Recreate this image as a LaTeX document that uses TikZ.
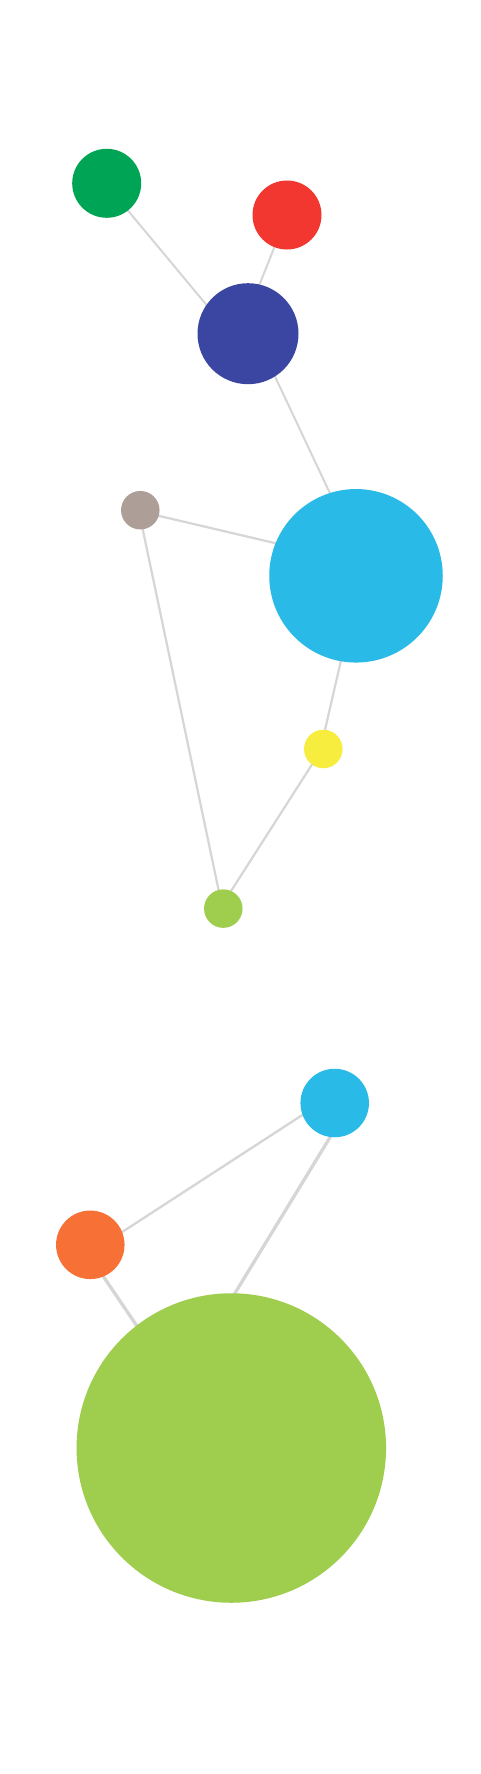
\documentclass[tikz,border=0pt]{standalone}
\usetikzlibrary{backgrounds}
\definecolor{cgreen}{HTML}{00A455}
\definecolor{cred}{HTML}{F23730}
\definecolor{cindigo}{HTML}{3B46A3}
\definecolor{cgrey}{HTML}{AD9F98}
\definecolor{ccyan}{HTML}{2ABAE7}
\definecolor{cyellow}{HTML}{F6ED3E}
\definecolor{clime}{HTML}{9FCD4E}
\definecolor{corange}{HTML}{F77035}
\definecolor{cedge}{HTML}{D6D6D6}
\tikzset{
  dot/.style={circle, inner sep=0pt, outer sep=0pt, draw=none, minimum size=#1},
  link/.style={draw=cedge, line width=#1},
  link/.default=2pt
}
\begin{document}
\begin{tikzpicture}[x=1pt,y=-1pt]
\useasboundingbox (0,0) rectangle (480,1774);
\node[dot=69pt, fill=cgreen] (g) at (106.7,183.3) {};
\node[dot=69pt, fill=cred] (r) at (287,215) {};
\node[dot=101pt, fill=cindigo] (b) at (248,333.7) {};
\node[dot=38.5pt, fill=cgrey] (gr) at (140.3,510.2) {};
\node[dot=173.5pt, fill=ccyan] (c) at (356,575.8) {};
\node[dot=38.5pt, fill=cyellow] (y) at (323.3,749) {};
\node[dot=38.5pt, fill=clime] (l) at (223.3,908.6) {};
\node[dot=68.5pt, fill=ccyan] (c2) at (334.7,1103) {};
\node[dot=68.5pt, fill=corange] (o) at (90.3,1244.8) {};
\node[dot=309.5pt, fill=clime] (bg) at (231.3,1448) {};
% hidden end points of the links, under the circles
\coordinate (g-b1) at (106.7,185.0);  \coordinate (g-b2) at (230,333.2);
\coordinate (r-b1) at (287.2,215);    \coordinate (r-b2) at (239.8,334);
\coordinate (b-c1) at (255,334);      \coordinate (b-c2) at (368.9,576);
\coordinate (gr-c1) at (140.3,511.5); \coordinate (gr-c2) at (356,562.1);
\coordinate (gr-l1) at (138.7,510.2); \coordinate (gr-l2) at (222.5,908.6);
\coordinate (c-y1) at (360.4,576);    \coordinate (c-y2) at (320.6,749);
\coordinate (y-l1) at (321.9,749);    \coordinate (y-l2) at (219.8,908.6);
\coordinate (c2-o1) at (334.7,1094.0);\coordinate (c2-o2) at (90.3,1252.7);
\coordinate (c2-bg1) at (346.7,1110); \coordinate (c2-bg2) at (200.3,1350);
\coordinate (o-bg1) at (82.1,1245);   \coordinate (o-bg2) at (187,1400);
\begin{pgfonlayer}{background}
\fill[white] (0,0) rectangle (480,1774);
\draw[link=2pt] (g-b1) -- (g-b2);
\draw[link=2pt] (r-b1) -- (r-b2);
\draw[link=2pt] (b-c1) -- (b-c2);
\draw[link=2.2pt] (gr-c1) -- (gr-c2);
\draw[link=2.2pt] (gr-l1) -- (gr-l2);
\draw[link=2.2pt] (c-y1) -- (c-y2);
\draw[link=2.2pt] (y-l1) -- (y-l2);
\draw[link=2.3pt] (c2-o1) -- (c2-o2);
\draw[link=3.3pt] (c2-bg1) -- (c2-bg2);
\draw[link=3.3pt] (o-bg1) -- (o-bg2);
\end{pgfonlayer}
\end{tikzpicture}
\end{document}
